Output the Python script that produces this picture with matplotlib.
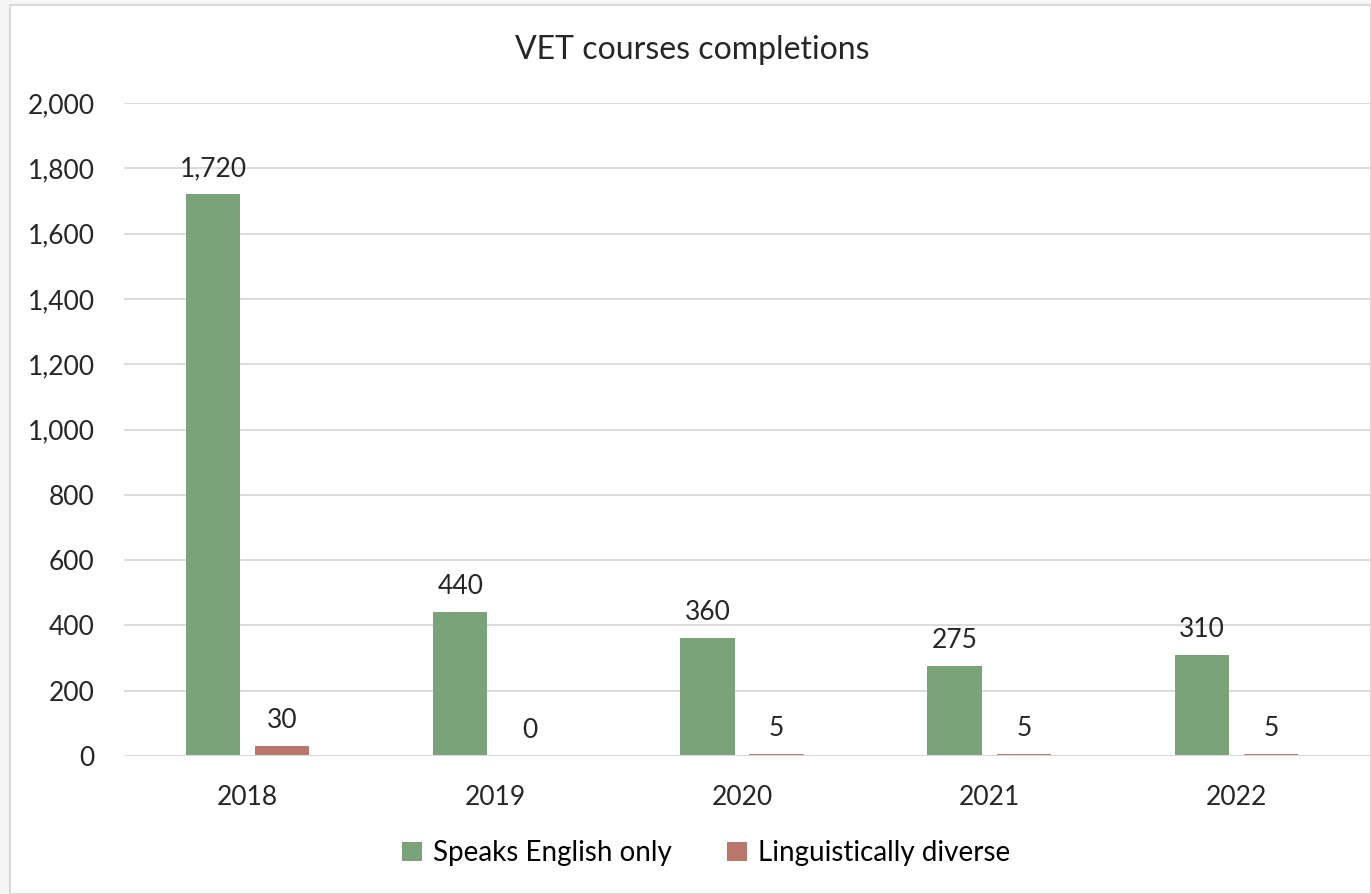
import numpy as np
import matplotlib.pyplot as plt
from matplotlib.patches import Rectangle
from matplotlib.ticker import FuncFormatter

years = ["2018", "2019", "2020", "2021", "2022"]
english_only = [1720, 440, 360, 275, 310]
diverse = [30, 0, 5, 5, 5]

plt.rcParams['font.family'] = ['Lato', 'DejaVu Sans']

fig = plt.figure(figsize=(13.71, 8.94), dpi=100)
fig.patch.set_facecolor('#f4f5f7')
# white chart area with thin border, behind the axes
fig.patches.append(Rectangle((10 / 1371, 0), 1 - 10 / 1371, 1 - 5 / 894, transform=fig.transFigure,
                             facecolor='white', edgecolor='#d9d9d9', linewidth=1.5, zorder=-10))

ax = fig.add_axes([124 / 1371, 1 - 756 / 894, (1370 - 124) / 1371, (756 - 103) / 894])
ax.set_facecolor('none')

x = np.arange(len(years))
w = 0.22
off = 0.14
b1 = ax.bar(x - off, english_only, w, color='#7ba37a', label='Speaks English only', zorder=2)
b2 = ax.bar(x + off, diverse, w, color='#b9776b', label='Linguistically diverse', zorder=2)

for bars, vals in ((b1, english_only), (b2, diverse)):
    for r, v in zip(bars, vals):
        ax.text(r.get_x() + r.get_width() / 2, v + 40, f"{v:,}", ha='center', va='bottom',
                fontsize=19, color='#262626')

ax.set_xlim(-0.5, len(years) - 0.46)
ax.set_ylim(0, 2000)
ax.set_yticks(np.arange(0, 2001, 200))
ax.yaxis.set_major_formatter(FuncFormatter(lambda v, p: f"{int(v):,}"))
ax.set_xticks(x)
ax.set_xticklabels(years)
ax.grid(axis='y', color='#d9d9d9', linewidth=1.3, zorder=1)
ax.set_axisbelow(True)
for s in ax.spines.values():
    s.set_visible(False)
ax.axhline(0, color='#d9d9d9', linewidth=1.5, zorder=3)
ax.tick_params(axis='both', length=0, labelsize=19, labelcolor='#262626')
ax.tick_params(axis='y', pad=21)
ax.tick_params(axis='x', pad=21)

fig.text(0.505, 1 - 50 / 894, "VET courses completions", fontsize=23, color='#262626',
         ha='center', va='center')

fig.legend(loc='center', bbox_to_anchor=(0.515, 1 - 853 / 894), ncol=2, frameon=False,
           fontsize=20, handlelength=0.7, handleheight=0.7, columnspacing=2.0, handletextpad=0.4)

fig.savefig("out.png", dpi=100)
